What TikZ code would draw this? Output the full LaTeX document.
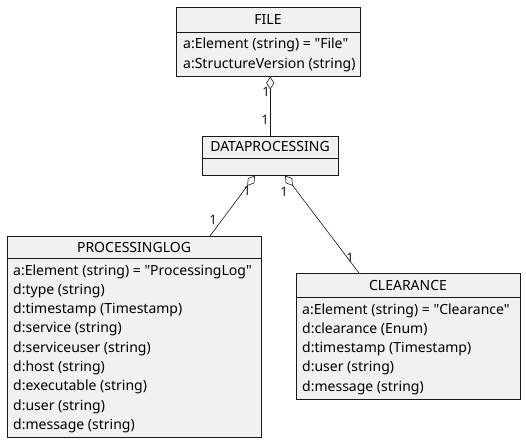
\documentclass[tikz,border=0pt]{standalone}
\usepackage{fontspec}
\setmainfont{Noto Sans}[Ligatures=TeXOff]
\usetikzlibrary{arrows.meta,calc}
\definecolor{boxfill}{HTML}{F1F1F1}
\definecolor{boxline}{HTML}{181818}
\tikzset{
  classbox/.style={draw=boxline, fill=boxfill, line width=0.5pt, anchor=north west, inner sep=0pt},
  sepline/.style={draw=boxline, line width=0.5pt},
  hdr/.style={font=\fontsize{14}{16}\selectfont, inner sep=0pt, anchor=base},
  attr/.style={font=\fontsize{14}{16}\selectfont, inner sep=0pt, anchor=base west},
  mult/.style={font=\fontsize{13}{15}\selectfont, inner sep=0pt, text=boxline},
  agg/.style={draw=boxline, line width=0.6pt, {Diamond[open, length=13pt, width=8pt, line width=0.6pt]}-},
}
\begin{document}
\begin{tikzpicture}[x=1pt, y=-1pt]
\useasboundingbox[fill=white] (0,0) rectangle (526,443);
% FILE
\node[classbox, minimum width=184pt, minimum height=69pt] (file) at (176,7) {};
\draw[sepline] (176,32) -- (360,32);
\node[hdr] (filen) at (268,24.5) {FILE};
\node[attr] (filea1) at (183,49) {a:Element (string) = "File"};
\node[attr] (filea2) at (183,68.3) {a:StructureVersion (string)};
% DATAPROCESSING
\node[classbox, minimum width=136pt, minimum height=39pt] (dp) at (202,136) {};
\draw[sepline] (202,158) -- (338,158);
\node[hdr] (dpn) at (270,152) {DATAPROCESSING};
% PROCESSINGLOG
\node[classbox, minimum width=254pt, minimum height=201pt] (pl) at (7,236) {};
\draw[sepline] (7,258) -- (261,258);
\node[hdr] (pln) at (134,252) {PROCESSINGLOG};
\foreach \t [count=\i from 0] in {a:Element (string) = "ProcessingLog",d:type (string),d:timestamp (Timestamp),d:service (string),d:serviceuser (string),d:host (string),d:executable (string),d:user (string),d:message (string)}
  \node[attr] (pla\i) at (13,{275+19.3*\i}) {\t};
% CLEARANCE
\node[classbox, minimum width=224pt, minimum height=126pt] (cl) at (296,273) {};
\draw[sepline] (296,297) -- (520,297);
\node[hdr] (cln) at (408,290) {CLEARANCE};
\foreach \t [count=\i from 0] in {a:Element (string) = "Clearance",d:clearance (Enum),d:timestamp (Timestamp),d:user (string),d:message (string)}
  \node[attr] (cla\i) at (302,{314+19.3*\i}) {\t};
% connectors
\draw[agg] (dp.north |- file.south) -- (dp.north);
\draw[agg] ($(dp.south west)+(53,0)$) -- ($(pl.north west)+(203,0)$);
\draw[agg] ($(dp.south west)+(83,0)$) -- ($(cl.north west)+(63,0)$);
% multiplicities
\node[mult] (m1) at (266,92) {1};
\node[mult] (m2) at (265,120) {1};
\node[mult] (m3) at (247,191) {1};
\node[mult] (m4) at (213,220) {1};
\node[mult] (m5) at (284,192) {1};
\node[mult] (m6) at (350,258) {1};
\end{tikzpicture}
\end{document}
